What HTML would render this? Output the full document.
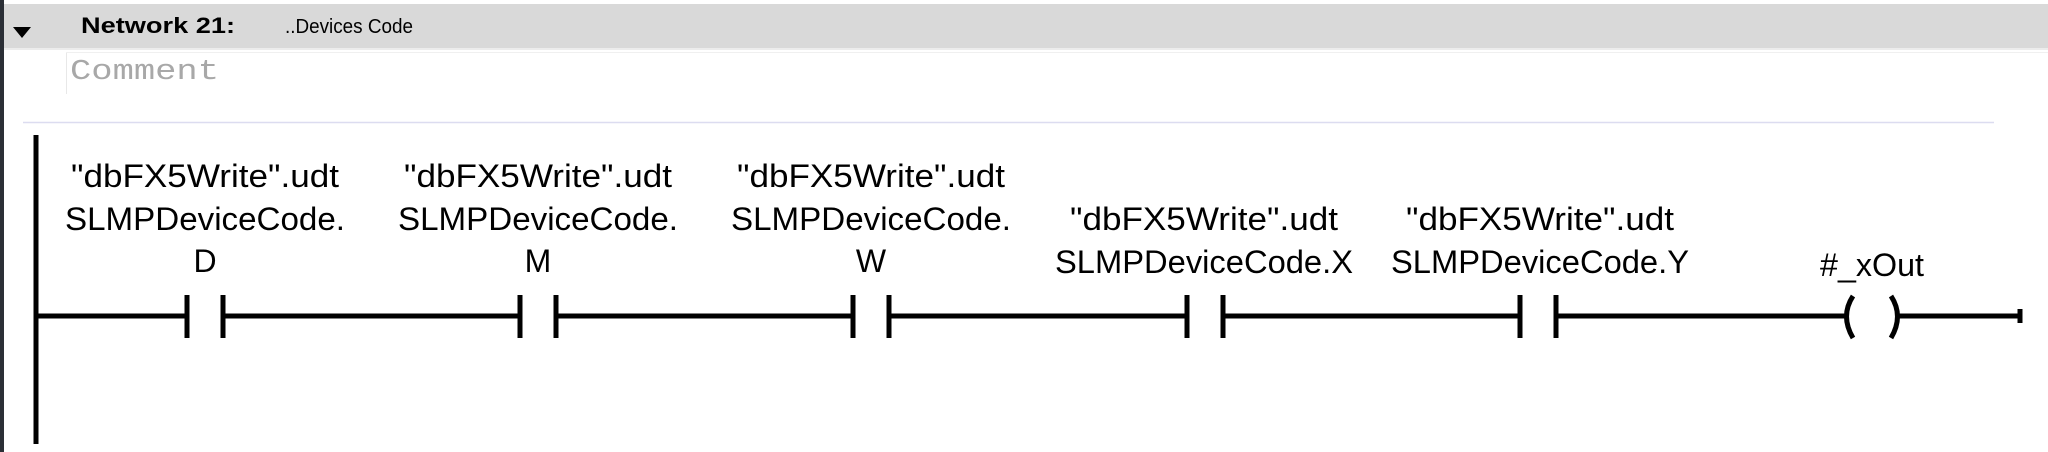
<!DOCTYPE html>
<html><head><meta charset="utf-8"><style>
html,body{margin:0;padding:0;background:#fff;width:2048px;height:452px;overflow:hidden}
</style></head><body>
<svg width="2048" height="452" xmlns="http://www.w3.org/2000/svg" font-family="'Liberation Sans', sans-serif">
<rect x="0" y="0" width="2048" height="452" fill="#fff"/>
<rect x="0" y="0" width="4" height="452" fill="#2b2f36"/>
<rect x="4" y="4" width="2044" height="44" fill="#d9d9d9"/>
<rect x="4" y="48" width="2044" height="2" fill="#ececec"/>
<polygon points="13,27 31,27 22,38" fill="#000"/>
<text x="81" y="33" font-size="22" font-weight="bold" fill="#000" textLength="154" lengthAdjust="spacingAndGlyphs">Network 21:</text>
<text x="285" y="33" font-size="20" fill="#000" textLength="128" lengthAdjust="spacingAndGlyphs">..Devices Code</text>
<rect x="66" y="52" width="1982" height="42" fill="#fff"/>
<line x1="66.5" y1="52" x2="66.5" y2="94" stroke="#e8e8e8"/>
<line x1="66" y1="52.5" x2="2048" y2="52.5" stroke="#f0f0f0"/>
<text x="70" y="79" font-size="29" font-family="'Liberation Mono', monospace" fill="#a8a8a8" textLength="149" lengthAdjust="spacingAndGlyphs">Comment</text>
<line x1="23" y1="122.5" x2="1994" y2="122.5" stroke="#dcdcf0" stroke-width="1.5"/>
<g stroke="#000" stroke-width="5" fill="none">
<line x1="36" y1="135" x2="36" y2="444"/>
<line x1="36" y1="316" x2="187" y2="316"/>
<line x1="187" y1="295" x2="187" y2="338"/><line x1="223" y1="295" x2="223" y2="338"/>
<line x1="223" y1="316" x2="520" y2="316"/>
<line x1="520" y1="295" x2="520" y2="338"/><line x1="556" y1="295" x2="556" y2="338"/>
<line x1="556" y1="316" x2="853" y2="316"/>
<line x1="853" y1="295" x2="853" y2="338"/><line x1="889" y1="295" x2="889" y2="338"/>
<line x1="889" y1="316" x2="1187" y2="316"/>
<line x1="1187" y1="295" x2="1187" y2="338"/><line x1="1223" y1="295" x2="1223" y2="338"/>
<line x1="1223" y1="316" x2="1520" y2="316"/>
<line x1="1520" y1="295" x2="1520" y2="338"/><line x1="1556" y1="295" x2="1556" y2="338"/>
<line x1="1556" y1="316" x2="1848" y2="316"/>
<path d="M1853,296 Q1840,316 1853,338"/>
<path d="M1891,296 Q1904,316 1891,338"/>
<line x1="1898" y1="316" x2="2020" y2="316"/>
<line x1="2020" y1="309" x2="2020" y2="323"/>
</g>
<g font-size="32" fill="#000" text-anchor="middle">
<text x="205" y="187" textLength="268" lengthAdjust="spacingAndGlyphs">"dbFX5Write".udt</text>
<text x="205" y="230" textLength="280" lengthAdjust="spacingAndGlyphs">SLMPDeviceCode.</text>
<text x="205" y="272">D</text>
<text x="538" y="187" textLength="268" lengthAdjust="spacingAndGlyphs">"dbFX5Write".udt</text>
<text x="538" y="230" textLength="280" lengthAdjust="spacingAndGlyphs">SLMPDeviceCode.</text>
<text x="538" y="272">M</text>
<text x="871" y="187" textLength="268" lengthAdjust="spacingAndGlyphs">"dbFX5Write".udt</text>
<text x="871" y="230" textLength="280" lengthAdjust="spacingAndGlyphs">SLMPDeviceCode.</text>
<text x="871" y="272">W</text>
<text x="1204" y="230" textLength="268" lengthAdjust="spacingAndGlyphs">"dbFX5Write".udt</text>
<text x="1204" y="273" textLength="298" lengthAdjust="spacingAndGlyphs">SLMPDeviceCode.X</text>
<text x="1540" y="230" textLength="268" lengthAdjust="spacingAndGlyphs">"dbFX5Write".udt</text>
<text x="1540" y="273" textLength="298" lengthAdjust="spacingAndGlyphs">SLMPDeviceCode.Y</text>
<text x="1872" y="276" textLength="104" lengthAdjust="spacingAndGlyphs">#_xOut</text>
</g>
</svg>
</body></html>
